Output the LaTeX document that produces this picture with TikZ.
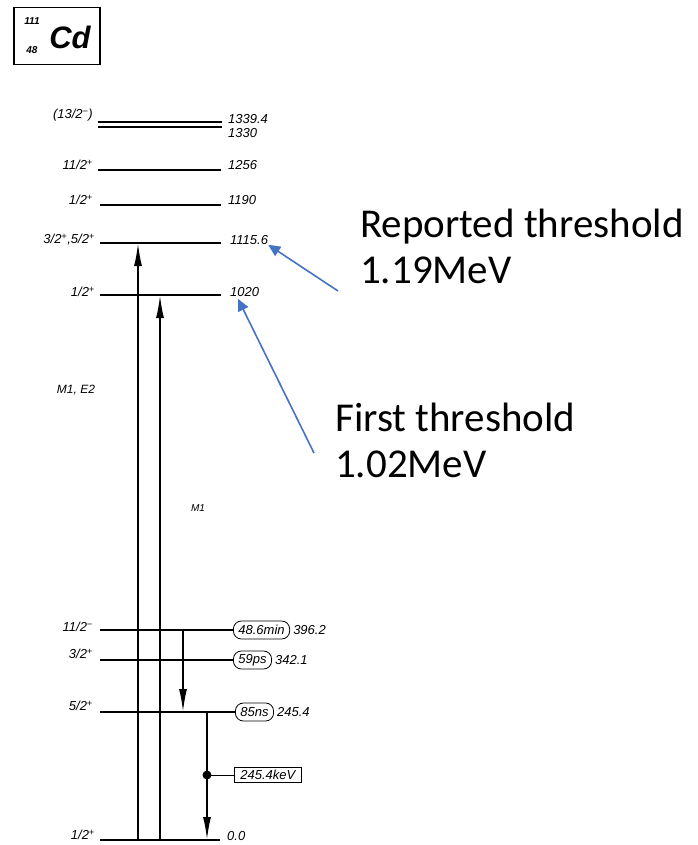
\documentclass[tikz,border=0pt]{standalone}
\usepackage{fontspec}
\setmainfont{Liberation Sans}
\newfontfamily\callout{Carlito}
\usepackage{xcolor}
\usetikzlibrary{positioning,arrows.meta,calc}
\definecolor{calblue}{HTML}{4472C4}

\begin{document}
\begin{tikzpicture}[x=1pt, y=-1pt,
		font=\fontsize{13}{15}\selectfont\itshape,
		lvl/.style={line width=2.3pt},
		thin lvl/.style={line width=1.4pt},
		trans/.style={line width=1.8pt},
		up/.style={trans, -{Latex[length=23pt,width=8pt]}},
		down/.style={trans, -{Latex[length=23pt,width=8pt]}},
		spin/.style={anchor=east, inner sep=0pt},
		en/.style={anchor=west, inner sep=0pt},
		life/.style={draw, rounded corners=8pt, line width=0.8pt, inner xsep=5pt,
				inner ysep=3pt, minimum height=18pt, anchor=west},
		note/.style={font=\callout\fontsize{41}{46}\selectfont, align=left,
				anchor=base west, inner sep=0pt},
		ptr/.style={draw=calblue, line width=1.6pt, -{Triangle[length=12pt,width=11pt]}}
		]
		\useasboundingbox (0,0) rectangle (697,845);
		% nuclide box
		\node[draw, line width=1.8pt, minimum width=86pt, minimum height=57pt,
			inner sep=0pt] (nuc) at (57,36) {};
		\node[font=\fontsize{31}{31}\selectfont\bfseries\itshape] (cd) at (70,37) {Cd};
		\node[font=\fontsize{10}{10}\selectfont\bfseries\itshape, inner sep=0pt] (mass)
		at (32,21) {111};
		\node[font=\fontsize{10}{10}\selectfont\bfseries\itshape, inner sep=0pt] (zz)
		at (32,50) {48};
		% levels (left end, right end)
		\coordinate (l1339l) at (98,122); \coordinate (l1339r) at (222,122);
		\coordinate (l1330l) at (98,127); \coordinate (l1330r) at (222,127);
		\coordinate (l1256l) at (98,170); \coordinate (l1256r) at (221,170);
		\coordinate (l1190l) at (100,205); \coordinate (l1190r) at (221,205);
		\coordinate (l1115l) at (100,243); \coordinate (l1115r) at (221,243);
		\coordinate (l1020l) at (100,295); \coordinate (l1020r) at (221,295);
		\coordinate (l396l) at (100,630);
		\coordinate (l342l) at (100,660);
		\coordinate (l245l) at (100,712);
		\coordinate (l0l) at (100,840); \coordinate (l0r) at (220,840);
		% spin labels
		\node[spin] (s1339) at (93,115) {(13/2\textsuperscript{−})};
		\node[spin] (s1256) at (93,165) {11/2\textsuperscript{+}};
		\node[spin] (s1190) at (93,200) {1/2\textsuperscript{+}};
		\node[spin] (s1115) at (95,240) {3/2\textsuperscript{+},5/2\textsuperscript{+}};
		\node[spin] (s1020) at (95,292) {1/2\textsuperscript{+}};
		\node[spin] (s396) at (93,627) {11/2\textsuperscript{−}};
		\node[spin] (s342) at (93,654) {3/2\textsuperscript{+}};
		\node[spin] (s245) at (93,706) {5/2\textsuperscript{+}};
		\node[spin] (s0) at (95,835) {1/2\textsuperscript{+}};
		% energies
		\node[en] (e1339) at (228,119) {1339.4};
		\node[en] (e1330) at (228,133) {1330};
		\node[en] (e1256) at (228,165) {1256};
		\node[en] (e1190) at (228,200) {1190};
		\node[en] (e1115) at (230,240) {1115.6};
		\node[en] (e1020) at (230,292) {1020};
		\node[life] (t396) at (233,630) {48.6min};
		\node[en, right=3pt of t396] (e396) {396.2};
		\node[life] (t342) at (233,660) {59ps};
		\node[en, right=3pt of t342] (e342) {342.1};
		\node[life] (t245) at (235,712) {85ns};
		\node[en, right=3pt of t245] (e245) {245.4};
		\node[en] (e0) at (227,836) {0.0};
		\draw[thin lvl] (l1339l) -- (l1339r);
		\draw[thin lvl] (l1330l) -- (l1330r);
		\draw[lvl] (l1256l) -- (l1256r);
		\draw[lvl] (l1190l) -- (l1190r);
		\draw[lvl] (l1115l) -- (l1115r);
		\draw[lvl] (l1020l) -- (l1020r);
		\draw[lvl] (l396l) -- (t396.west);
		\draw[lvl] (l342l) -- (t342.west);
		\draw[lvl] (l245l) -- (t245.west);
		\draw[lvl] (l0l) -- (l0r);
		% transitions
		\coordinate (a0) at (138,840); \coordinate (a1) at (138,243);
		\coordinate (b0) at (160,840); \coordinate (b1) at (160,295);
		\coordinate (c0) at (183,630); \coordinate (c1) at (183,712);
		\coordinate (d0) at (207,712); \coordinate (d1) at (207,840);
		\draw[up] (a0) -- (a1);
		\draw[up] (b0) -- (b1);
		\draw[down] (c0) -- (c1);
		\draw[down] (d0) -- (d1);
		\node[font=\fontsize{12}{14}\selectfont\itshape] (me2) at (76,390) {M1, E2};
		\node[font=\fontsize{10}{12}\selectfont\itshape] (m1) at (198,508) {M1};
		% gamma line
		\node[draw, line width=0.7pt, anchor=west, inner xsep=6pt, inner ysep=3pt]
		(gam) at (234,775) {245.4keV};
		\fill (207,775) circle (4.5pt) coordinate (dot);
		\draw[line width=0.7pt] (dot) -- (gam.west);
		% callouts
		\node[note] (rep) at (360,283) {Reported threshold\\1.19MeV};
		\node[note] (fst) at (335,477) {First threshold\\1.02MeV};
		\coordinate (rtail) at (338,291);
		\coordinate (ftail) at (314,453);
		\draw[ptr] (rtail) -- (e1115.south east);
		\draw[ptr] (ftail) -- ([xshift=8pt,yshift=-2pt]e1020.south west);
	\end{tikzpicture}
\end{document}
